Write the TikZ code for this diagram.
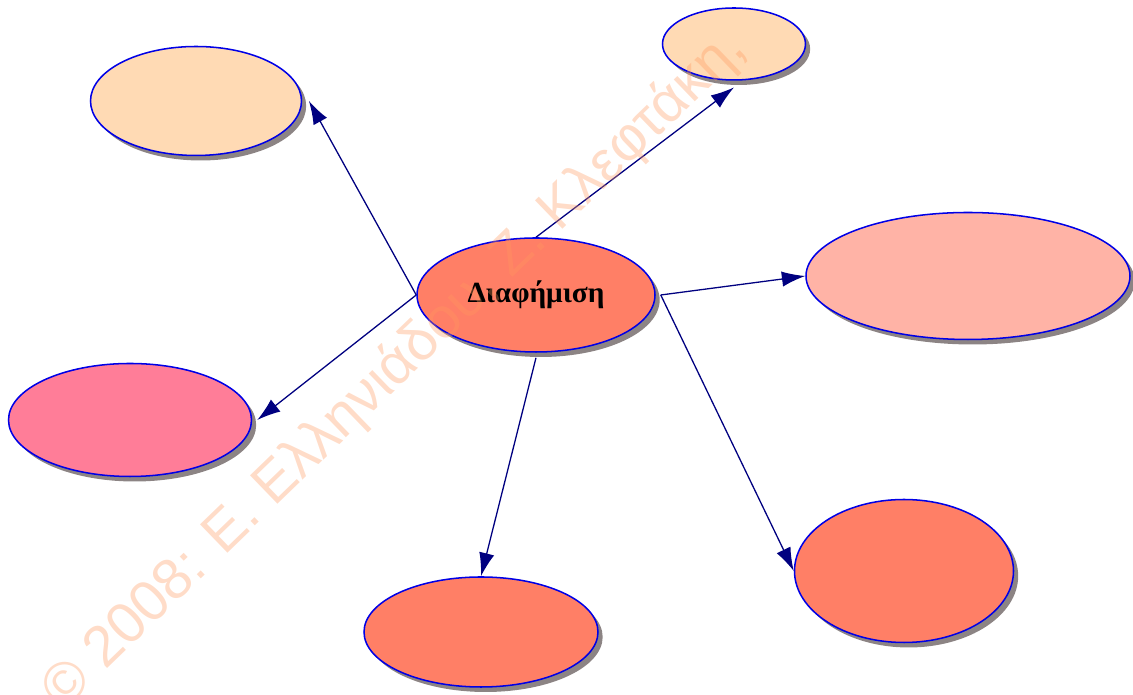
\documentclass[tikz,border=0pt]{standalone}
\usepackage{fontspec}
\setmainfont{Liberation Serif}
\newfontfamily\marksans{Liberation Sans}
\usetikzlibrary{shapes.geometric, arrows.meta, shadows, positioning}
\definecolor{coral}{HTML}{FF7F66}
\definecolor{peach}{HTML}{FFDAB4}
\definecolor{salmonpink}{HTML}{FFB3A6}
\definecolor{rosepink}{HTML}{FF7D98}
\definecolor{rimblue}{HTML}{0000E6}
\definecolor{arrownavy}{HTML}{000080}
\definecolor{shadowgray}{HTML}{8C8484}
\definecolor{markorange}{HTML}{FF995E}
\tikzstyle{bubble} = [ellipse, inner sep=0pt, draw=rimblue, line width=1.3pt, drop shadow={shadow xshift=1.4mm, shadow yshift=-1.5mm, fill=shadowgray, opacity=1}]
\tikzstyle{arrow} = [draw=arrownavy, line width=1.1pt, -{Latex[length=7mm,width=4.6mm]}]
\tikzstyle{stamp} = [font=\marksans\fontsize{49}{56}\selectfont, text=markorange, opacity=0.34, rotate=44, anchor=base west, inner sep=0pt]

\begin{document}
\begin{tikzpicture}[x=1cm,y=1cm, node distance=6cm]
\useasboundingbox (0,0) rectangle (33.99,20.85);
%%%%% ADDING MAIN BLOCKS
\node (main) [bubble, fill=coral, minimum width=7.14cm, minimum height=3.42cm, font=\bfseries\fontsize{25}{30}\selectfont] at (16.08,12.0) {\raisebox{-0.8mm}{Διαφήμιση}};
% the surrounding bubbles are shifted from the centre one
\node (tl) [bubble, fill=peach, minimum width=6.33cm, minimum height=3.27cm, left of=main, xshift=-4.2cm, yshift=5.82cm] {};
\node (tr) [bubble, fill=peach, minimum width=4.29cm, minimum height=2.16cm, above of=main, xshift=5.94cm, yshift=1.53cm] {};
\node (r) [bubble, fill=salmonpink, minimum width=9.72cm, minimum height=3.81cm, right of=main, xshift=6.96cm, yshift=0.57cm] {};
\node (l) [bubble, fill=rosepink, minimum width=7.29cm, minimum height=3.39cm, left of=main, xshift=-6.18cm, yshift=-3.75cm] {};
\node (b) [bubble, fill=coral, minimum width=7.02cm, minimum height=3.3cm, below of=main, xshift=-1.65cm, yshift=-4.11cm] {};
\node (br) [bubble, fill=coral, minimum width=6.57cm, minimum height=4.29cm, right of=main, xshift=5.04cm, yshift=-8.28cm] {};

%%%%% ADDING ARROWS
\draw [arrow] (main.west) -- ([xshift=2mm]tl.east);
\draw [arrow] (main.north) -- ([yshift=-2mm]tr.south);
\draw [arrow] ([xshift=1.5mm]main.east) -- (r.west);
\draw [arrow] (main.west) -- ([xshift=1.5mm]l.east);
\draw [arrow] ([yshift=-1.5mm]main.south) -- (b.north);
\draw [arrow] ([xshift=1.5mm]main.east) -- (br.west);

%%%%% WATERMARK
\node (mark) [stamp] at (1.91,-0.49) {© 2008: Ε. Ελληνιάδου, Ζ. Κλεφτάκη,};
\end{tikzpicture}
\end{document}
